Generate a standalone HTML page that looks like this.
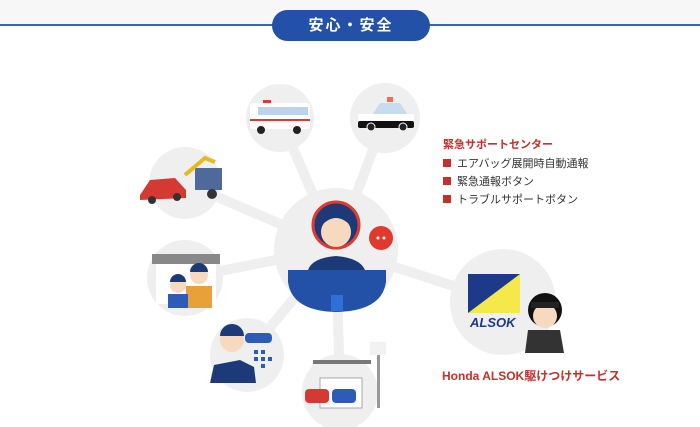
<!DOCTYPE html>
<html><head><meta charset="utf-8"><style>
body{margin:0;width:700px;height:427px;overflow:hidden;background:#fff;font-family:"Liberation Sans","Noto Sans CJK JP",sans-serif;position:relative}
.t{position:absolute;white-space:nowrap}
</style></head><body>
<div style="position:absolute;left:0;top:0;width:700px;height:25px;background:#f7f7f7"></div>
<div style="position:absolute;left:0;top:24px;width:700px;height:2px;background:#3a63b8"></div>
<div class="t" style="left:272px;top:10px;width:158px;height:31px;border-radius:16px;background:#2451a8;color:#fff;font-weight:bold;font-size:15px;line-height:31px;text-align:center;letter-spacing:2px">安心・安全</div>
<svg style="position:absolute;left:0;top:0" width="700" height="427">
<g stroke="#efefef" stroke-width="10">
<line x1="336" y1="248" x2="280" y2="118"/><line x1="336" y1="248" x2="385" y2="118"/>
<line x1="336" y1="248" x2="185" y2="183"/><line x1="336" y1="248" x2="185" y2="278"/>
<line x1="336" y1="248" x2="247" y2="355"/><line x1="336" y1="248" x2="340" y2="390"/>
<line x1="336" y1="248" x2="503" y2="302"/>
</g>
<g fill="#efefef">
<circle cx="280" cy="118" r="34"/><circle cx="385" cy="118" r="35"/>
<circle cx="185" cy="183" r="36"/><circle cx="185" cy="278" r="38"/>
<circle cx="247" cy="355" r="37"/><circle cx="340" cy="392" r="38"/>
<circle cx="503" cy="302" r="53"/><circle cx="336" cy="250" r="62"/>
</g>
<!-- ambulance -->
<rect x="250" y="103" width="60" height="26" rx="3" fill="#fff"/>
<rect x="258" y="107" width="50" height="8" fill="#bcd3ea"/>
<rect x="250" y="119" width="60" height="2" fill="#e03a2e"/>
<rect x="263" y="100" width="8" height="3" fill="#e03a2e"/>
<circle cx="261" cy="130" r="4" fill="#222"/><circle cx="297" cy="130" r="4" fill="#222"/>
<!-- police -->
<rect x="387" y="97" width="6" height="5" fill="#f07050"/>
<path d="M372 115 L380 103 L400 103 L408 115Z" fill="#c6dcef"/>
<rect x="358" y="114" width="56" height="8" fill="#fff"/>
<rect x="358" y="121" width="56" height="7" rx="2" fill="#111"/>
<circle cx="371" cy="127" r="4" fill="#222" stroke="#fff"/><circle cx="403" cy="127" r="4" fill="#222" stroke="#fff"/>
<!-- tow -->
<rect x="195" y="168" width="27" height="22" fill="#4e6a9a"/>
<path d="M185 175 L205 158 L215 162" stroke="#e8b820" stroke-width="4" fill="none"/>
<path d="M140 195 L150 180 L175 178 L186 190 L186 198 L140 200Z" fill="#d43a32"/>
<circle cx="152" cy="200" r="4" fill="#333"/><circle cx="177" cy="197" r="4" fill="#333"/>
<circle cx="212" cy="194" r="5" fill="#333"/>
<!-- family -->
<rect x="152" y="254" width="68" height="10" fill="#888"/>
<rect x="156" y="264" width="60" height="40" fill="#fff"/>
<rect x="186" y="286" width="26" height="22" fill="#e8a038"/>
<circle cx="199" cy="275" r="9" fill="#f7d9c0"/><path d="M190 272 a9 9 0 0 1 18 0Z" fill="#1d3a78"/>
<rect x="168" y="294" width="20" height="14" fill="#2d5cb8"/>
<circle cx="178" cy="285" r="8" fill="#f7d9c0"/><path d="M170 282 a8 8 0 0 1 16 0Z" fill="#1d3a78"/>
<!-- insurance man -->
<path d="M210 383 L214 365 L240 360 L254 367 L256 383Z" fill="#1d3a78"/>
<circle cx="232" cy="340" r="12" fill="#f7d9c0"/><path d="M220 336 a12 12 0 0 1 24 0Z" fill="#1d3a78"/>
<rect x="245" y="333" width="27" height="10" rx="4" fill="#2d5cb8"/>
<g fill="#2d5cb8"><rect x="254" y="350" width="4" height="4"/><rect x="261" y="350" width="4" height="4"/><rect x="254" y="357" width="4" height="4"/><rect x="261" y="357" width="4" height="4"/><rect x="268" y="357" width="4" height="4"/><rect x="261" y="364" width="4" height="4"/></g>
<!-- garage -->
<rect x="313" y="360" width="58" height="4" fill="#777"/>
<rect x="320" y="378" width="42" height="30" fill="#fff" stroke="#aaa"/>
<rect x="377" y="355" width="3" height="53" fill="#999"/><rect x="370" y="342" width="16" height="13" fill="#f2f2f2"/>
<rect x="305" y="389" width="24" height="14" rx="4" fill="#d43a32"/><rect x="332" y="389" width="24" height="14" rx="4" fill="#2d5cb8"/>
<!-- operator -->
<circle cx="336" cy="225" r="23" fill="#1d3a78" stroke="#e03a2e" stroke-width="3"/>
<circle cx="336" cy="232" r="15" fill="#f7d9c0"/>
<path d="M321 226 Q336 210 351 226 L351 220 Q336 204 321 220Z" fill="#1d3a78"/>
<path d="M308 270 Q312 258 336 256 Q360 258 365 270Z" fill="#1d3a78"/>
<path d="M288 270 L386 270 L386 282 Q382 311 336 312 Q292 311 288 282Z" fill="#2451a8"/>
<rect x="331" y="295" width="12" height="16" fill="#2e6fd8"/>
<circle cx="381" cy="238" r="12" fill="#e03a2e"/>
<circle cx="378" cy="238" r="1.5" fill="#fff"/><circle cx="384" cy="238" r="1.5" fill="#fff"/>
<!-- ALSOK -->
<rect x="468" y="274" width="52" height="39" fill="#1d3a8a"/>
<path d="M520 274 L520 313 L468 313Z" fill="#f5e84a"/>
<text x="470" y="327" font-family="Liberation Sans" font-style="italic" font-weight="bold" font-size="13" fill="#1d3a8a">ALSOK</text>
<path d="M525 353 L528 330 L560 330 L564 353Z" fill="#333"/>
<circle cx="545" cy="310" r="17" fill="#111"/>
<circle cx="545" cy="316" r="12" fill="#f7d9c0"/>
<rect x="531" y="302" width="28" height="6" fill="#222"/>
</svg>
<div class="t" style="left:443px;top:136px;font-size:11px;font-weight:bold;color:#c4302b">緊急サポートセンター</div>
<div class="t" style="left:443px;top:155px;font-size:11px;color:#333"><span style="display:inline-block;width:8px;height:8px;background:#c4302b;margin-right:6px"></span>エアバッグ展開時自動通報</div>
<div class="t" style="left:443px;top:173px;font-size:11px;color:#333"><span style="display:inline-block;width:8px;height:8px;background:#c4302b;margin-right:6px"></span>緊急通報ボタン</div>
<div class="t" style="left:443px;top:191px;font-size:11px;color:#333"><span style="display:inline-block;width:8px;height:8px;background:#c4302b;margin-right:6px"></span>トラブルサポートボタン</div>
<div class="t" style="left:442px;top:367px;font-size:12px;font-weight:bold;color:#c4302b">Honda ALSOK駆けつけサービス</div>
</body></html>
